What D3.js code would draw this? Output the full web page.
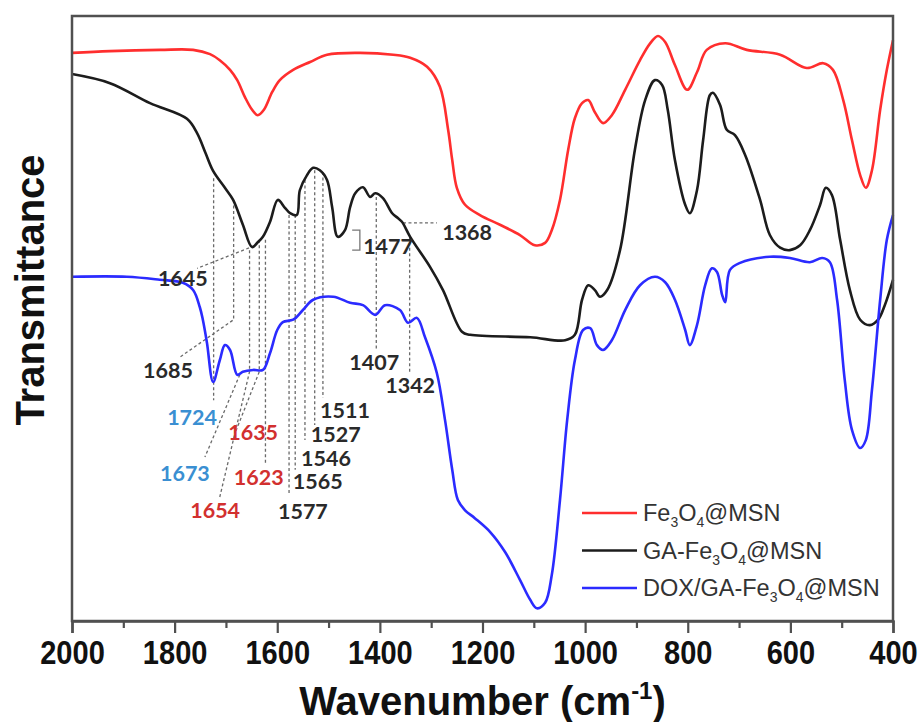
<!DOCTYPE html>
<html>
<head>
<meta charset="utf-8">
<script src="https://cdn.jsdelivr.net/npm/d3@7"></script>
<style>
  body { margin: 0; background: #fff; }
  svg { display: block; }
</style>
</head>
<body>
<svg id="chart" width="922" height="722"></svg>
<script>
// FTIR spectra, transmittance in arbitrary offset units
const wnFe = [2000,1926,1828,1764,1731,1712,1692,1678,1663,1649,1638,1626,1610,1595,1569,1536,1503,1439,1374,1341,1308,1283,1267,1259,1250,1234,1205,1166,1127,1098,1078,1065,1049,1033,1020,1006,994,981,965,948,922,893,874,858,844,825,801,782,763,727,685,620,568,536,517,497,480,464,453,441,425,412,400];
const tFe  = [93.9,94.2,94.4,94.4,93.7,92.7,91.1,89.4,86.6,84.5,83.6,84.5,87.4,89.4,91.1,92.4,93.6,93.9,93.6,93.1,91.6,88.3,81.2,76.2,71.6,68.8,67.1,65.5,63.8,62.1,62.5,64.6,69.6,77.9,83.1,85.6,86.1,84.1,82.3,83.6,87.8,92.7,95.4,96.7,95.7,91.9,87.8,90.7,94.4,95.5,94.4,93.6,91.4,92.2,91.1,86.1,79.5,73.7,71.6,74.5,84.5,91.1,96.0];

const wnGA = [2000,1926,1848,1776,1756,1740,1725,1702,1686,1667,1649,1638,1628,1614,1599,1585,1575,1562,1556,1542,1530,1517,1503,1493,1482,1468,1458,1448,1433,1419,1409,1394,1376,1365,1357,1341,1302,1277,1240,1224,1107,1039,1020,1006,994,981,971,957,932,903,883,864,850,839,825,805,796,782,770,757,751,737,724,708,688,659,640,620,601,581,562,542,531,519,503,484,464,445,429,416,400];
const tGA  = [90.4,88.9,85.6,83.0,80.6,77.4,74.4,71.6,69.6,65.5,61.8,62.6,63.5,66.0,69.6,68.3,67.4,67.1,71.2,73.7,74.9,74.5,72.9,68.4,63.5,64.6,68.4,70.7,71.7,70.1,70.7,69.9,67.4,66.6,66.0,63.5,58.5,54.7,47.8,47.3,46.9,46.4,47.3,53.1,55.5,54.7,53.6,54.7,61.3,77.9,86.1,89.4,88.6,84.5,76.2,68.8,67.4,71.2,79.5,86.9,87.3,85.3,81.2,80.3,77.0,69.6,63.8,61.7,61.3,62.1,64.6,68.8,71.6,70.4,63.0,54.7,49.8,48.9,49.8,52.2,56.4];

const wnDOX = [2000,1893,1829,1784,1764,1751,1745,1737,1725,1712,1702,1692,1678,1667,1647,1628,1614,1600,1589,1569,1550,1530,1491,1458,1433,1409,1390,1361,1345,1328,1312,1289,1273,1259,1248,1234,1215,1185,1156,1127,1107,1094,1078,1065,1049,1035,1020,1004,990,977,965,948,922,893,864,844,825,805,796,782,766,753,743,733,727,718,698,640,601,562,538,523,509,494,480,464,453,441,425,412,400];
const tDOX  = [56.9,56.9,56.4,55.9,54.7,51.9,49.8,46.0,39.5,43.1,45.6,44.8,40.7,41.2,41.5,41.5,44.3,48.1,49.4,49.8,51.4,53.1,53.6,52.6,52.2,50.6,52.2,51.4,49.3,50.1,46.9,41.0,33.2,25.0,20.0,18.3,17.0,14.7,11.4,6.8,3.5,2.1,3.0,7.6,20.0,33.2,43.1,48.1,48.4,45.6,44.8,46.4,51.4,55.5,56.9,56.0,53.1,48.1,45.6,48.9,55.5,58.3,57.7,53.9,52.7,58.0,59.2,60.2,60.0,59.3,60.0,59.3,53.1,39.8,31.6,28.6,29.9,38.2,53.1,63.0,67.1];

const seriesNames = ["Fe3O4@MSN", "GA-Fe3O4@MSN", "DOX/GA-Fe3O4@MSN"];
const xTicks = [2000, 1800, 1600, 1400, 1200, 1000, 800, 600, 400];

// Band assignments: leader path (wavenumber, transmittance) and label anchor
const bandLabels = ["1724","1685","1645","1654","1673","1635","1623","1577","1565","1546","1527","1511","1407","1342","1368","1477"];
const bandGroups = ["dox","ga","ga","fe","dox","fe","fe","ga","ga","ga","ga","ga","ga","ga","ga","ga"];
const bandLeaders = [
  [[1724,73.2],[1724,36.5]],
  [[1685,69.6],[1685,49.8],[1790,43.6]],
  [[1645,62.0],[1756,58.3]],
  [[1654,61.3],[1654,41.2],[1712,20.5]],
  [[1673,40.7],[1741,27.1]],
  [[1635,63.0],[1635,41.2],[1682,31.1]],
  [[1623,63.0],[1623,26.1]],
  [[1577,67.1],[1577,20.8]],
  [[1565,67.1],[1565,25.0]],
  [[1546,72.9],[1546,29.9]],
  [[1527,74.5],[1527,32.4]],
  [[1511,74.2],[1511,36.9]],
  [[1407,70.1],[1407,44.8]],
  [[1342,63.5],[1342,41.2]],
  [[1355,65.8],[1289,65.8]],
  []
];
const bandAnchors = [[1766,33.7],[1813,41.5],[1784,56.7],[1721,18.3],[1780,24.5],[1647,31.2],[1636,23.8],[1550,18.2],[1521,23.1],[1505,27.0],[1486,30.9],[1468,34.9],[1411,42.8],[1341,39.0],[1230,64.3],[1384,62.0]];
const bracket1477 = [[1454,64.6],[1439,64.6],[1439,61.3],[1454,61.3]];

const svg = d3.select("#chart");
const L = 72, R = 893, T = 16, B = 621;

const x = d3.scaleLinear().domain([2000, 400]).range([L, R]);
const y = d3.scaleLinear().domain([0, 100]).range([B, T]);

const colors = { fe: "#ff2e2e", ga: "#1c1c1c", dox: "#2b2bff" };
const labelColors = { fe: "#d2302f", ga: "#2a2a2a", dox: "#3a8fd2" };

// leader lines
const leader = d3.line().x(d => x(d[0])).y(d => y(d[1]));
const gLead = svg.append("g")
  .attr("fill", "none").attr("stroke", "#6a6a6a")
  .attr("stroke-width", 1.3).attr("stroke-dasharray", "3,2.5");
bandLeaders.forEach(p => { if (p.length) gLead.append("path").attr("d", leader(p)); });
svg.append("path").attr("d", leader(bracket1477))
  .attr("fill", "none").attr("stroke", "#777").attr("stroke-width", 1.3);

// spectra
const curve = d3.line().x(d => x(d[0])).y(d => y(d[1])).curve(d3.curveCatmullRom.alpha(0.5));
const spectra = [
  { key: "fe", wn: wnFe, t: tFe },
  { key: "ga", wn: wnGA, t: tGA },
  { key: "dox", wn: wnDOX, t: tDOX }
];
spectra.forEach(s => {
  svg.append("path")
    .attr("d", curve(s.wn.map((w, i) => [w, s.t[i]])))
    .attr("fill", "none").attr("stroke", colors[s.key])
    .attr("stroke-width", 2.6).attr("stroke-linejoin", "round");
});

// band labels
svg.append("g").selectAll("text").data(bandLabels).join("text")
  .attr("x", (d, i) => x(bandAnchors[i][0]))
  .attr("y", (d, i) => y(bandAnchors[i][1]))
  .attr("text-anchor", "middle").attr("dominant-baseline", "central")
  .attr("font-family", "Lato, 'Liberation Sans', sans-serif")
  .attr("font-weight", 700).attr("font-size", 21.5)
  .attr("fill", (d, i) => labelColors[bandGroups[i]])
  .text(d => d);

// frame
svg.append("rect").attr("x", L).attr("y", T).attr("width", R - L).attr("height", B - T)
  .attr("fill", "none").attr("stroke", "#505050").attr("stroke-width", 2.5);

// bottom axis: major and minor ticks
const axisFont = "'Liberation Sans', Arial, sans-serif";
const major = svg.append("g").attr("transform", `translate(0,${B})`)
  .call(d3.axisBottom(x).tickValues(xTicks).tickSize(12).tickPadding(8).tickFormat(d3.format("d")));
major.select(".domain").attr("stroke", "#505050").attr("stroke-width", 2.5);
major.selectAll(".tick line").attr("stroke", "#505050").attr("stroke-width", 2.2);
major.selectAll(".tick text").attr("font-family", axisFont).attr("font-weight", 700)
  .attr("font-size", 33).attr("fill", "#111")
  .attr("transform", "scale(0.88,1)");
const minorVals = d3.range(1900, 400, -200);
const minor = svg.append("g").attr("transform", `translate(0,${B})`)
  .call(d3.axisBottom(x).tickValues(minorVals).tickSize(7).tickFormat(""));
minor.select(".domain").remove();
minor.selectAll(".tick line").attr("stroke", "#505050").attr("stroke-width", 2.2);

// axis titles
const xt = svg.append("text").attr("x", (L + R) / 2).attr("y", 715)
  .attr("text-anchor", "middle").attr("font-family", "'Liberation Sans', Arial, sans-serif")
  .attr("font-weight", 700).attr("font-size", 40).attr("fill", "#111");
xt.append("tspan").text("Wavenumber (cm");
xt.append("tspan").attr("font-size", 24).attr("dy", -16).text("-1");
xt.append("tspan").attr("dy", 16).text(")");

svg.append("text").attr("transform", `translate(44,290) rotate(-90)`)
  .attr("text-anchor", "middle").attr("font-family", "'Liberation Sans', Arial, sans-serif")
  .attr("font-weight", 700).attr("font-size", 40).attr("fill", "#111")
  .text("Transmittance");

// legend
const legendRows = [
  { key: "fe", parts: [["Fe",0],["3",1],["O",0],["4",1],["@MSN",0]] },
  { key: "ga", parts: [["GA-Fe",0],["3",1],["O",0],["4",1],["@MSN",0]] },
  { key: "dox", parts: [["DOX/GA-Fe",0],["3",1],["O",0],["4",1],["@MSN",0]] }
];
const lg = svg.append("g");
legendRows.forEach((r, i) => {
  const ly = 513 + i * 37.5;
  lg.append("line").attr("x1", 582).attr("x2", 637).attr("y1", ly).attr("y2", ly)
    .attr("stroke", colors[r.key]).attr("stroke-width", 2.6);
  const t = lg.append("text").attr("x", 643).attr("y", ly + 8)
    .attr("font-family", "'Liberation Sans', Arial, sans-serif").attr("font-size", 23.5)
    .attr("fill", "#333").attr("aria-label", seriesNames[i]);
  let shifted = false;
  r.parts.forEach(([s, sub]) => {
    const sp = t.append("tspan").text(s);
    if (sub && !shifted) { sp.attr("font-size", 14).attr("dy", 6); shifted = true; }
    else if (!sub && shifted) { sp.attr("dy", -6); shifted = false; }
    else if (sub) sp.attr("font-size", 14);
  });
});
</script>
</body>
</html>
